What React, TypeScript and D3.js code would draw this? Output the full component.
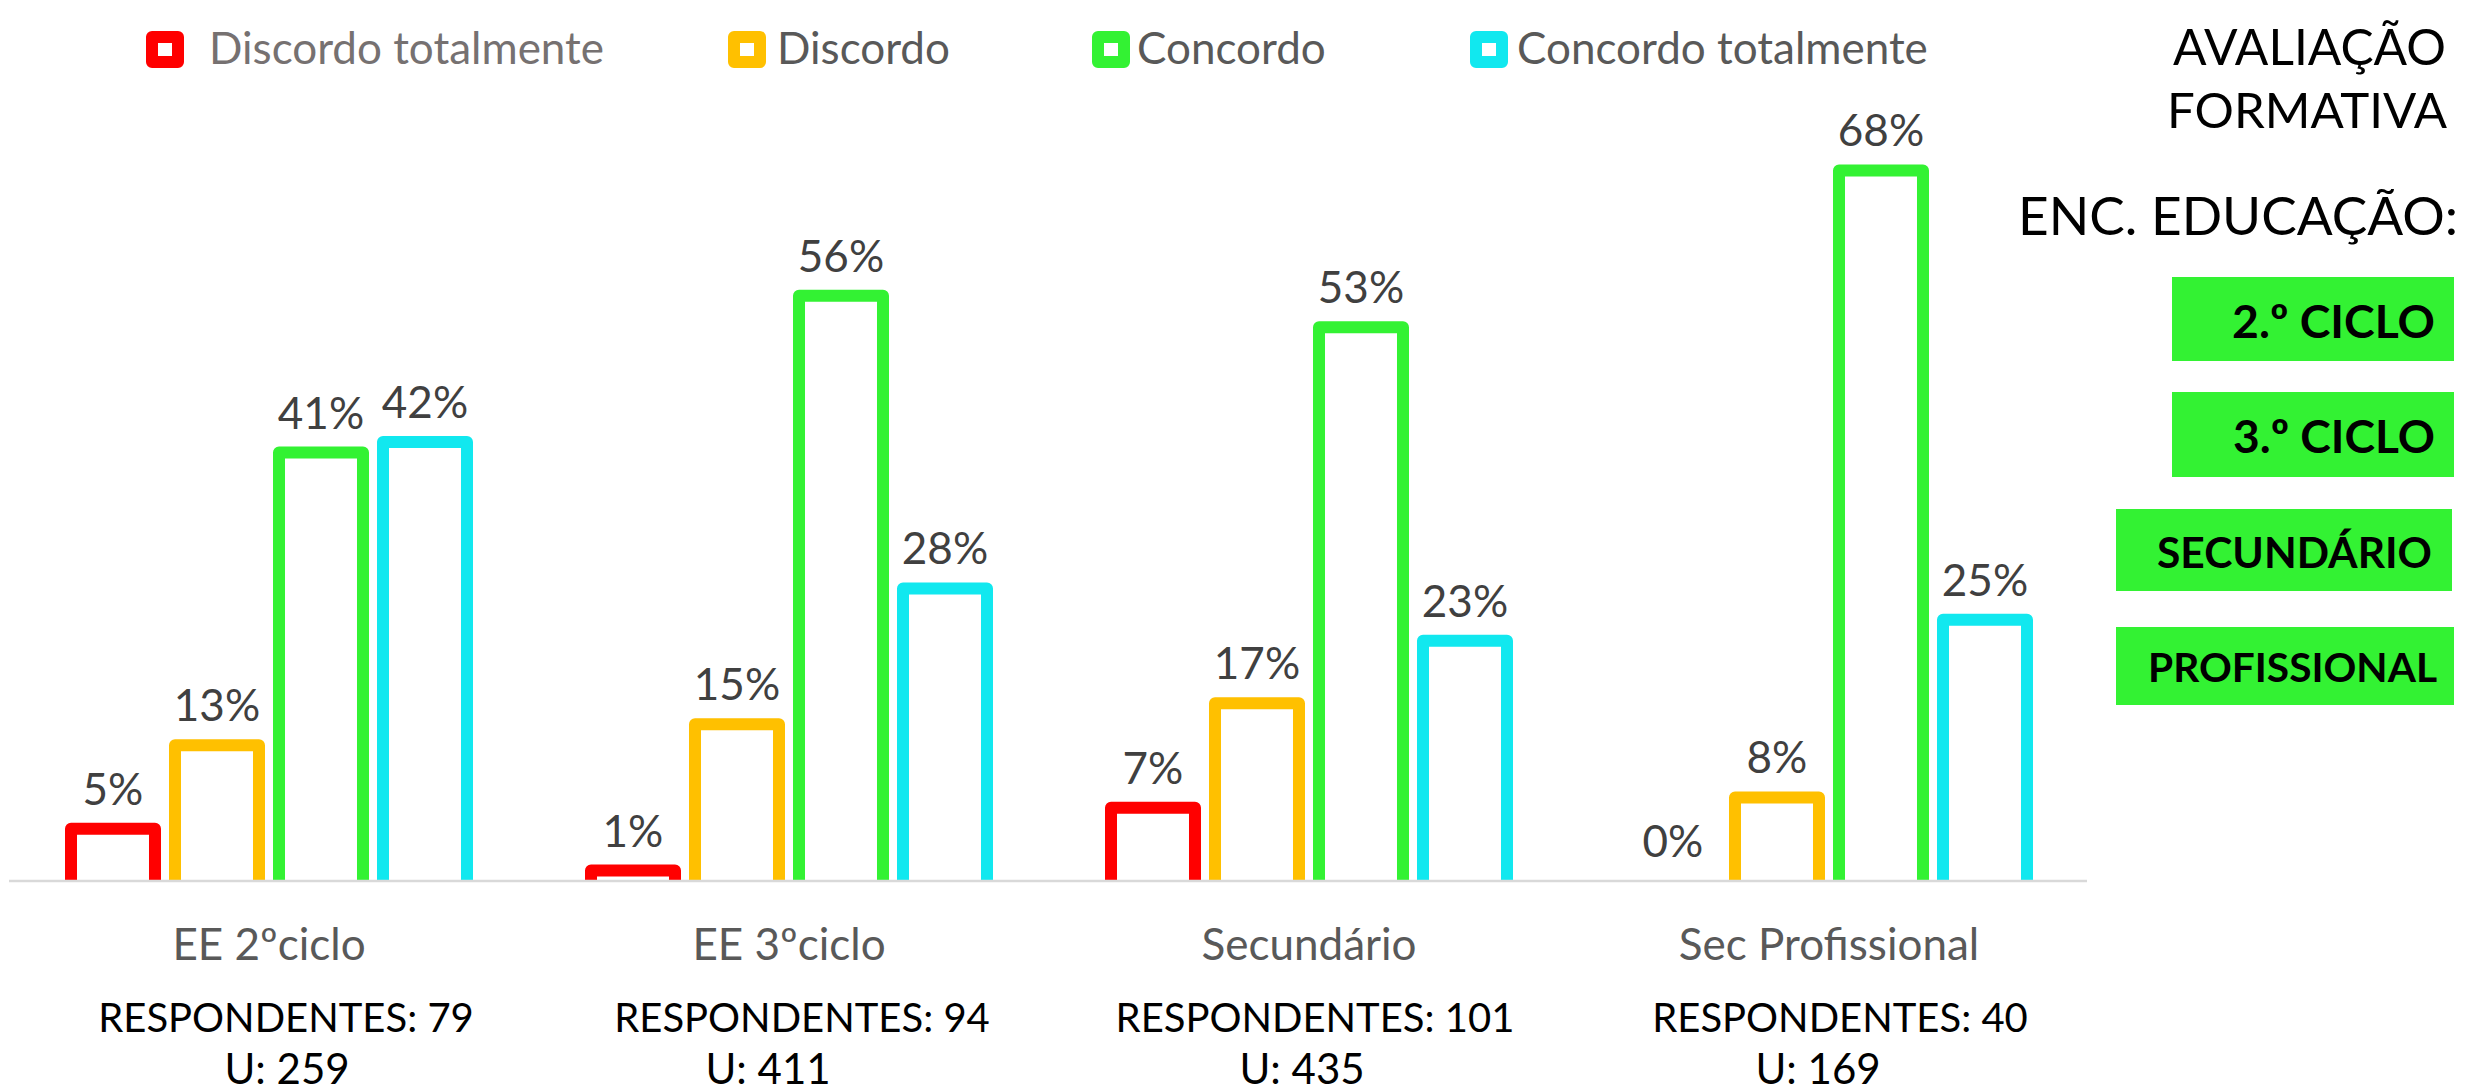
import React, { useEffect, useRef } from 'react';
import * as d3 from 'd3';

const categories = ['EE 2ºciclo', 'EE 3ºciclo', 'Secundário', 'Sec Profissional'];
const seriesNames = ['Discordo totalmente', 'Discordo', 'Concordo', 'Concordo totalmente'];
const seriesColors = ['#FF0000', '#FFC000', '#33F233', '#11E8EF'];

const discordoTotalmente = [5, 1, 7, 0];
const discordo = [13, 15, 17, 8];
const concordo = [41, 56, 53, 68];
const concordoTotalmente = [42, 28, 23, 25];

const respondentes = [79, 94, 101, 40];
const uValues = [259, 411, 435, 169];

const titleLines = ['AVALIAÇÃO', 'FORMATIVA', 'ENC. EDUCAÇÃO:'];
const levels = ['2.º CICLO', '3.º CICLO', 'SECUNDÁRIO', 'PROFISSIONAL'];

const W = 2469;
const H = 1092;
const FONT = 'Lato, "Open Sans", sans-serif';

const App = () => {
  const svgRef = useRef(null);

  useEffect(() => {
    document.body.style.margin = '0';
    const svg = d3.select(svgRef.current).attr('width', W).attr('height', H);
    svg.selectAll('*').remove();

    const values = [discordoTotalmente, discordo, concordo, concordoTotalmente];
    const baseY = 881;

    // scales
    const x0 = d3.scaleBand().domain(categories).range([9, 2089]).paddingInner(0.2).paddingOuter(0.1);
    const x1 = d3.scaleBand().domain(seriesNames).range([0, x0.bandwidth()]).paddingInner(0.077).paddingOuter(0.0385);
    const y = d3.scaleLinear().domain([0, 70]).range([baseY, 149.5]);

    // fits a text to a given width by changing its font size
    const fit = (sel, width) => {
      const size = parseFloat(sel.attr('font-size'));
      const len = sel.node().getComputedTextLength();
      if (len > 0) sel.attr('font-size', (size * width) / len);
    };

    // legend
    const legendX = [146, 728, 1092, 1470];
    const legendTextX = [209, 777, 1137, 1517];
    seriesNames.forEach((name, i) => {
      svg.append('rect')
        .attr('x', legendX[i] + 6).attr('y', 37)
        .attr('width', 26).attr('height', 25)
        .attr('fill', '#fff')
        .attr('stroke', seriesColors[i]).attr('stroke-width', 12)
        .attr('stroke-linejoin', 'round');
      svg.append('text')
        .attr('x', legendTextX[i]).attr('y', 64)
        .attr('font-family', FONT).attr('font-size', 44)
        .attr('fill', i === 0 ? '#767171' : '#595959')
        .text(name);
    });

    // bars
    svg.append('clipPath').attr('id', 'plotClip')
      .append('rect').attr('x', 0).attr('y', 0).attr('width', W).attr('height', baseY - 1);

    const g = svg.append('g');
    const bars = g.append('g').attr('clip-path', 'url(#plotClip)');
    categories.forEach((cat, ci) => {
      seriesNames.forEach((name, si) => {
        const v = values[si][ci];
        const bx = x0(cat) + x1(name);
        if (v > 0) {
          bars.append('rect')
            .attr('x', bx + 6).attr('y', y(v))
            .attr('width', x1.bandwidth() - 12)
            .attr('height', baseY + 6 - y(v))
            .attr('fill', '#fff')
            .attr('stroke', seriesColors[si]).attr('stroke-width', 12)
            .attr('stroke-linejoin', 'round');
        }
        g.append('text')
          .attr('x', bx + x1.bandwidth() / 2).attr('y', y(v) - 24)
          .attr('text-anchor', 'middle')
          .attr('font-family', FONT).attr('font-size', 44)
          .attr('fill', '#404040')
          .text(v + '%');
      });
    });

    // category axis line
    g.append('line')
      .attr('x1', 9).attr('x2', 2087)
      .attr('y1', baseY).attr('y2', baseY)
      .attr('stroke', '#D9D9D9').attr('stroke-width', 2.5);

    categories.forEach((cat) => {
      g.append('text')
        .attr('x', x0(cat) + x0.bandwidth() / 2).attr('y', 960)
        .attr('text-anchor', 'middle')
        .attr('font-family', FONT).attr('font-size', 44)
        .attr('fill', '#595959')
        .text(cat);
    });

    // respondents text boxes
    const respX = [286, 802, 1315, 1840];
    const uX = [287, 768, 1302, 1818];
    respondentes.forEach((r, i) => {
      svg.append('text')
        .attr('x', respX[i]).attr('y', 1032)
        .attr('text-anchor', 'middle')
        .attr('font-family', FONT).attr('font-size', 40)
        .attr('fill', '#000')
        .text('RESPONDENTES: ' + r);
      svg.append('text')
        .attr('x', uX[i]).attr('y', 1084)
        .attr('text-anchor', 'middle')
        .attr('font-family', FONT).attr('font-size', 42)
        .attr('fill', '#000')
        .text('U: ' + uValues[i]);
    });

    // right panel
    const titlePos = [
      { right: 2446, base: 65, width: 273 },
      { right: 2447, base: 128, width: 280 },
      { right: 2458, base: 235, width: 440 },
    ];
    titleLines.forEach((t, i) => {
      const txt = svg.append('text')
        .attr('x', titlePos[i].right).attr('y', titlePos[i].base)
        .attr('text-anchor', 'end')
        .attr('font-family', FONT).attr('font-size', 56)
        .attr('fill', '#000')
        .text(t);
      fit(txt, titlePos[i].width);
    });

    const boxes = [
      { x: 2172, y: 277, w: 282, h: 84, right: 2435, base: 338, tw: 203 },
      { x: 2172, y: 392, w: 282, h: 85, right: 2435, base: 453, tw: 202 },
      { x: 2116, y: 509, w: 336, h: 82, right: 2432, base: 568, tw: 275 },
      { x: 2116, y: 627, w: 338, h: 78, right: 2437, base: 682, tw: 289 },
    ];
    levels.forEach((lv, i) => {
      const b = boxes[i];
      svg.append('rect')
        .attr('x', b.x).attr('y', b.y).attr('width', b.w).attr('height', b.h)
        .attr('fill', '#33F233');
      const txt = svg.append('text')
        .attr('x', b.right).attr('y', b.base)
        .attr('text-anchor', 'end')
        .attr('font-family', FONT).attr('font-size', 50).attr('font-weight', 700)
        .attr('fill', '#000')
        .text(lv);
      fit(txt, b.tw);
    });
  }, []);

  return <svg ref={svgRef} style={{ display: 'block' }}></svg>;
};

export default App;
